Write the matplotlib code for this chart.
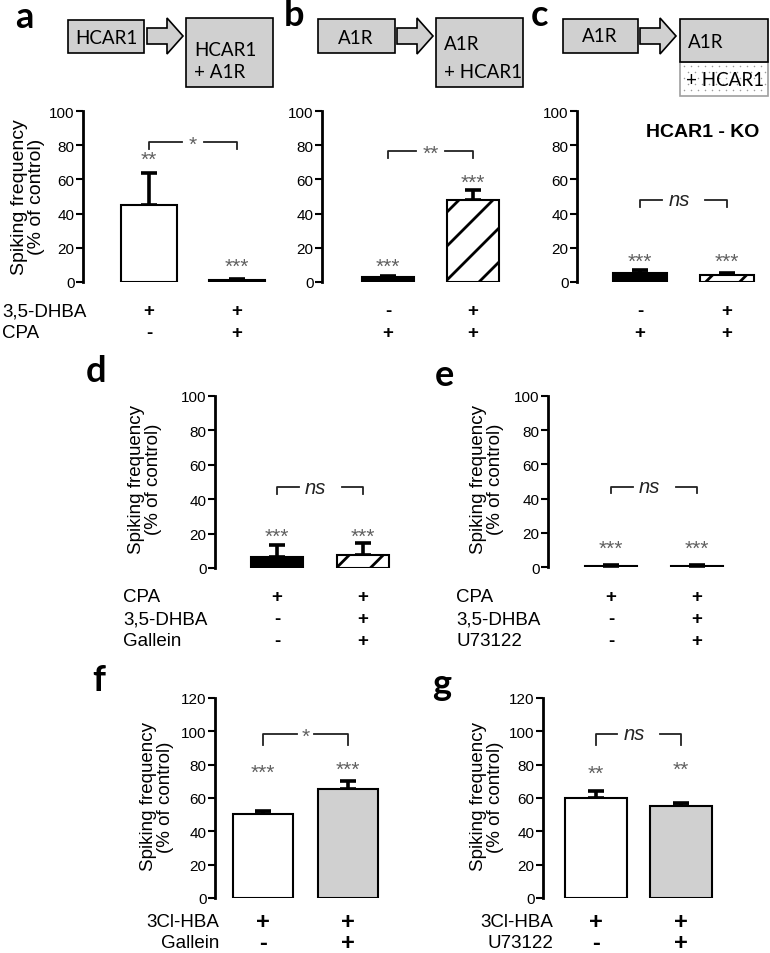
import numpy as np
import matplotlib
matplotlib.use('Agg')
import matplotlib.pyplot as plt
from matplotlib.patches import Rectangle, Polygon
from matplotlib.lines import Line2D
from matplotlib.transforms import IdentityTransform, blended_transform_factory

plt.rcParams['font.family'] = ['Liberation Sans', 'DejaVu Sans']

# values (% of control), mean and upper SEM
a_vals = [45, 1]
a_err = [19, 1]
b_vals = [3, 48]
b_err = [0.5, 6]
c_vals = [5, 4]
c_err = [2, 1.5]
d_vals = [6.5, 7.5]
d_err = [7, 7]
e_vals = [0.5, 0.5]
e_err = [0.6, 0.6]
f_vals = [50.5, 65.5]
f_err = [2, 4.5]
g_vals = [60, 55]
g_err = [4, 2]

a_stars = ['**', '***']
b_stars = ['***', '***']
c_stars = ['***', '***']
d_stars = ['***', '***']
e_stars = ['***', '***']
f_stars = ['***', '***']
g_stars = ['**', '**']

# treatment rows under each panel
a_rows = {'3,5-DHBA': ['+', '+'], 'CPA': ['-', '+']}
b_rows = {'3,5-DHBA': ['-', '+'], 'CPA': ['+', '+']}
c_rows = {'3,5-DHBA': ['-', '+'], 'CPA': ['+', '+']}
d_rows = {'CPA': ['+', '+'], '3,5-DHBA': ['-', '+'], 'Gallein': ['-', '+']}
e_rows = {'CPA': ['+', '+'], '3,5-DHBA': ['-', '+'], 'U73122': ['-', '+']}
f_rows = {'3Cl-HBA': ['+', '+'], 'Gallein': ['-', '+']}
g_rows = {'3Cl-HBA': ['+', '+'], 'U73122': ['-', '+']}

W, H = 770, 954
GREY = '#d0d0d0'
STAR = '#606060'
fig = plt.figure(figsize=(W / 100, H / 100), dpi=100)

# overlay in pixel coordinates for diagrams and labels
ov = fig.add_axes([0, 0, 1, 1], zorder=0)
ov.set_xlim(0, W)
ov.set_ylim(H, 0)
ov.axis('off')


def add_ax(left, top, right, bottom):
    return fig.add_axes([left / W, 1 - bottom / H, (right - left) / W, (bottom - top) / H], zorder=2)


def add_hatch(ax, bar, spacing=34, lw=2.0):
    (x0, y0), (x1, y1) = ax.transData.transform(
        [(bar.get_x(), bar.get_y()), (bar.get_x() + bar.get_width(), bar.get_y() + bar.get_height())])
    h = y1 - y0
    for xs in np.arange(x0 - h - spacing + 12, x1 + spacing, spacing):
        ln = Line2D([xs, xs + h], [y0, y1], transform=IdentityTransform(), color='k', lw=lw, zorder=3.2)
        ax.add_line(ln)
        ln.set_clip_path(bar)


def panel(box, vals, errs, styles, stars, star_y, bracket, centers, width, ymax=100,
          tick_fs=11, lab_fs=13.5, label_xy=None):
    left, top, right, bottom = box
    ax = add_ax(left, top, right, bottom)
    x = np.arange(len(vals))
    scale = centers[1] - centers[0]
    ax.set_xlim(-(centers[0] - left) / scale, 1 + (right - centers[1]) / scale)
    ax.set_ylim(0, ymax)
    lo = np.zeros(len(vals))
    ax.errorbar(x, vals, yerr=[lo, errs], fmt='none', ecolor='k', elinewidth=2.6,
                capsize=6, capthick=2.6, zorder=2)
    bars = ax.bar(x, vals, width=width, edgecolor='k', linewidth=1.5, zorder=3,
                  color=['k' if s == 'black' else (GREY if s == 'grey' else 'white') for s in styles])
    for b, s in zip(bars, styles):
        if s == 'hatch':
            add_hatch(ax, b)
    for xi, s, yy in zip(x, stars, star_y):
        ax.text(xi, yy, s, ha='center', va='center', fontsize=15, color=STAR)
    lvl, drop, txt, gap, italic = bracket
    mid = 0.5
    ax.plot([0, 0, mid - gap], [lvl - drop, lvl, lvl], color='#222222', lw=1.3, clip_on=False)
    ax.plot([mid + gap, 1, 1], [lvl, lvl, lvl - drop], color='#222222', lw=1.3, clip_on=False)
    if italic:
        ax.text(mid - 0.05, lvl, txt, ha='center', va='center', fontsize=14.5,
                style='italic', color='#222222')
    else:
        ax.text(mid, lvl - 1.5, txt, ha='center', va='center', fontsize=15, color=STAR)
    for sp in ['top', 'right', 'bottom']:
        ax.spines[sp].set_visible(False)
    ax.spines['left'].set_linewidth(2)
    ax.set_yticks(np.arange(0, ymax + 1, 20))
    ax.set_xticks([])
    ax.tick_params(axis='y', direction='out', length=5, width=1.5, labelsize=tick_fs, pad=1)
    ax.patch.set_alpha(0)
    if label_xy is not None:
        ov.text(label_xy[0], label_xy[1], 'Spiking frequency\n(% of control)', rotation=90,
                ha='center', va='center', fontsize=lab_fs, linespacing=1.05)
    return ax


def sign_rows(ax, rows, ys, label_x, fs=13.5, sign_fs=13.5, align='left', show_names=True):
    tr = blended_transform_factory(ax.transData, ov.transData)
    for (name, signs), y in zip(rows.items(), ys):
        if show_names:
            ov.text(label_x, y, name, ha=align, va='center', fontsize=fs)
        for xi, s in enumerate(signs):
            ax.text(xi, y, s, transform=tr, ha='center', va='center',
                    fontsize=sign_fs, fontweight='bold', clip_on=False)


# bar panels
ax_a = panel((83, 112, 275, 283), a_vals, a_err, ['white', 'white'], a_stars, [72, 9],
             (82, 4, '*', 0.12, False), (149, 237), 0.64, lab_fs=14, label_xy=(28, 197))
ax_b = panel((322, 112, 515, 283), b_vals, b_err, ['black', 'hatch'], b_stars, [9, 58],
             (76.5, 4, '**', 0.17, False), (388, 473), 0.61)
ax_c = panel((577, 112, 768, 283), c_vals, c_err, ['black', 'hatch'], c_stars, [12, 12],
             (48, 4, 'ns', 0.25, True), (640, 727), 0.61)
ax_c.text(0.72, 88, 'HCAR1 - KO', ha='center', va='center', fontsize=14, fontweight='bold')
ax_d = panel((215, 397, 410, 569), d_vals, d_err, ['black', 'hatch'], d_stars, [18.5, 18.5],
             (47, 4, 'ns', 0.25, True), (277, 363), 0.6, label_xy=(145, 479))
ax_e = panel((548, 397, 740, 568), e_vals, e_err, ['white', 'white'], e_stars, [11, 11],
             (47, 4, 'ns', 0.25, True), (611, 697), 0.6, label_xy=(487, 479))
ax_f = panel((215, 699, 395, 899), f_vals, f_err, ['white', 'grey'], f_stars, [75.5, 77],
             (98.5, 6.5, '*', 0.1, False), (263, 348), 0.7, ymax=120, label_xy=(157, 797))
ax_g = panel((543, 699, 725, 899), g_vals, g_err, ['white', 'grey'], g_stars, [75, 77],
             (98.5, 6.5, 'ns', 0.25, True), (596, 681), 0.72, ymax=120, label_xy=(487, 797))

sign_rows(ax_a, a_rows, [312, 334], 2)
sign_rows(ax_b, b_rows, [312, 334], 2, show_names=False)
sign_rows(ax_c, c_rows, [312, 334], 2, show_names=False)
sign_rows(ax_d, d_rows, [598, 620, 642], 123)
sign_rows(ax_e, e_rows, [598, 620, 642], 456)
sign_rows(ax_f, f_rows, [923, 944], 219, fs=13.5, sign_fs=17, align='right')
sign_rows(ax_g, g_rows, [923, 944], 553, fs=13.5, sign_fs=17, align='right')

# schematic boxes at the top
box_font = ['Lato', 'DejaVu Sans']


def arrow(x0, x1, yc):
    pts = [(x0, yc - 8), (x0 + 20, yc - 8), (x0 + 20, yc - 18), (x1, yc),
           (x0 + 20, yc + 18), (x0 + 20, yc + 8), (x0, yc + 8)]
    ov.add_patch(Polygon(pts, closed=True, fc=GREY, ec='k', lw=1.2))


def box(x0, y0, x1, y1, **kw):
    ov.add_patch(Rectangle((x0, y0), x1 - x0, y1 - y0, **kw))


box(68, 21, 144, 54, fc=GREY, ec='k', lw=1.2)
ov.text(106, 38, 'HCAR1', ha='center', va='center', fontsize=13.5, family=box_font)
arrow(147, 183, 37)
box(186, 19, 273, 88, fc=GREY, ec='k', lw=1.2)
ov.text(194, 50, 'HCAR1', ha='left', va='center', fontsize=13.5, family=box_font)
ov.text(194, 73, '+ A1R', ha='left', va='center', fontsize=13.5, family=box_font)

box(318, 20, 395, 54, fc=GREY, ec='k', lw=1.2)
ov.text(356, 38, 'A1R', ha='center', va='center', fontsize=13.5, family=box_font)
arrow(397, 433, 37)
box(436, 19, 523, 88, fc=GREY, ec='k', lw=1.2)
ov.text(444, 44, 'A1R', ha='left', va='center', fontsize=13.5, family=box_font)
ov.text(444, 73, '+ HCAR1', ha='left', va='center', fontsize=13.5, family=box_font)

box(563, 20, 638, 54, fc=GREY, ec='k', lw=1.2)
ov.text(600, 37, 'A1R', ha='center', va='center', fontsize=13.5, family=box_font)
arrow(640, 676, 37)
box(680, 63, 768, 97, fc='white', ec='#a0a0a0', lw=1.2)
# dotted fill of the knock-out box
dx, dy = np.meshgrid(np.arange(684, 767, 7), np.arange(67, 96, 6))
dx = dx + (np.arange(dx.shape[0])[:, None] % 2) * 3.5
ov.scatter(dx.ravel(), dy.ravel(), s=1.2, color='#9a9a9a', linewidths=0, zorder=1)
box(680, 20, 768, 63, fc=GREY, ec='k', lw=1.2)
ov.text(688, 42, 'A1R', ha='left', va='center', fontsize=13.5, family=box_font)
ov.text(686, 80, '+ HCAR1', ha='left', va='center', fontsize=13.5, family=box_font, zorder=3)

# panel letters
for ch, x, y in [('a', 24, 18), ('b', 294, 16), ('c', 540, 15), ('d', 96, 372),
                 ('e', 444, 376), ('f', 99, 681), ('g', 442, 685)]:
    ov.text(x, y, ch, ha='center', va='center', fontsize=26, fontweight='bold', family=box_font)

fig.savefig('out.png', dpi=100)
